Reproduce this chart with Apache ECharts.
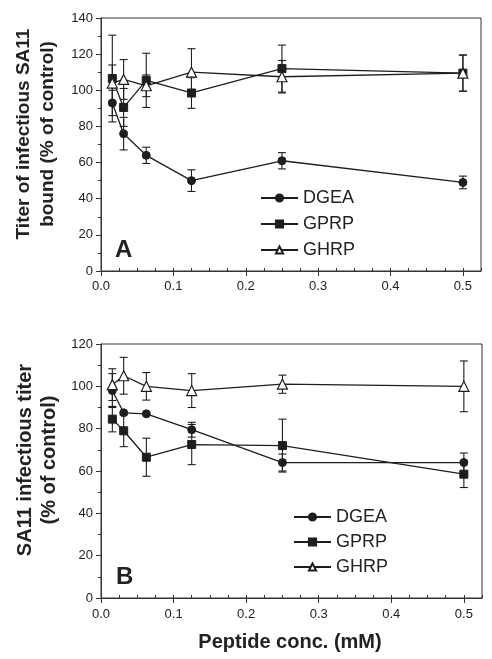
<!DOCTYPE html>
<html>
<head>
<meta charset="utf-8">
<script src="https://cdn.jsdelivr.net/npm/echarts@6/dist/echarts.min.js"></script>
<style>
html,body{margin:0;padding:0;background:#fff;}
#chart{width:492px;height:659px;}
</style>
</head>
<body>
<div id="chart"></div>
<script>
// ---- data ----
const conc = [0.015625, 0.03125, 0.0625, 0.125, 0.25, 0.5];
const seriesNames = ['DGEA', 'GPRP', 'GHRP'];

// Panel A: titer of infectious SA11 bound (% of control)
const aDGEA = [93, 76, 64, 50, 61, 49];
const aDGEAErr = [7, 9, 4.5, 6, 4.5, 3.5];
const aGPRP = [106.5, 90.5, 105.5, 98.5, 112, 109.5];
const aGPRPErr = [24, 10.5, 15, 8.5, 13, 10];
const aGHRP = [104, 106, 102.5, 110, 107.5, 109.5];
const aGHRPErr = [10, 11, 6, 13, 9, 10];

// Panel B: SA11 infectious titer (% of control)
const bDGEA = [98, 87.5, 87, 79.5, 64, 64];
const bDGEAErr = [8, 0, 0, 3.5, 4, 4.5];
const bGPRP = [84.5, 79, 66.5, 72.5, 72, 58.5];
const bGPRPErr = [6, 7.5, 9, 9.5, 12.5, 6.3];
const bGHRP = [100.8, 105, 100, 98, 101, 100];
const bGHRPErr = [7.5, 8.7, 6.5, 8, 4.3, 12];

const xTickLabels = ['0.0', '0.1', '0.2', '0.3', '0.4', '0.5'];
const aYMax = 140, bYMax = 120;

// ---- chart ----
const INK = '#1e1e1e';
const AXIS = '#333';
const chart = echarts.init(document.getElementById('chart'), null, {renderer: 'canvas'});

function pairs(ys) { return conc.map((x, i) => [x, ys[i]]); }
function triples(ys, es) { return conc.map((x, i) => [x, ys[i], es[i]]); }

function errRender(params, api) {
  const x = api.value(0), y = api.value(1), e = api.value(2);
  if (!e) return null;
  const hi = api.coord([x, y + e]);
  const lo = api.coord([x, y - e]);
  const w = 4;
  const st = {stroke: INK, lineWidth: 1.1};
  return {
    type: 'group',
    children: [
      {type: 'line', shape: {x1: hi[0], y1: hi[1], x2: lo[0], y2: lo[1]}, style: st},
      {type: 'line', shape: {x1: hi[0] - w, y1: hi[1], x2: hi[0] + w, y2: hi[1]}, style: st},
      {type: 'line', shape: {x1: lo[0] - w, y1: lo[1], x2: lo[0] + w, y2: lo[1]}, style: st}
    ]
  };
}

const symbolDefs = {
  DGEA: {symbol: 'circle', symbolSize: 8, itemStyle: {color: INK, borderColor: INK, borderWidth: 1}},
  GPRP: {symbol: 'rect', symbolSize: 8, itemStyle: {color: INK, borderColor: INK, borderWidth: 1}},
  GHRP: {symbol: 'triangle', symbolSize: 10, itemStyle: {color: '#fff', borderColor: INK, borderWidth: 1.2}}
};

function lineSeries(name, ys, xi, yi) {
  const d = symbolDefs[name];
  return {
    type: 'line', name: name, xAxisIndex: xi, yAxisIndex: yi,
    data: pairs(ys), symbol: d.symbol, symbolSize: d.symbolSize,
    showAllSymbol: true, itemStyle: d.itemStyle,
    lineStyle: {color: INK, width: 1.3}, z: 5, animation: false
  };
}
function errSeries(ys, es, xi, yi) {
  return {
    type: 'custom', xAxisIndex: xi, yAxisIndex: yi,
    data: triples(ys, es), renderItem: errRender, z: 3, silent: true, animation: false
  };
}

function xMajor(gi, margin) {
  return {
    type: 'value', gridIndex: gi, min: 0, max: 0.525, interval: 0.1,
    axisLine: {show: true, onZero: false, lineStyle: {color: AXIS, width: 1}},
    axisTick: {show: true, length: 5, lineStyle: {color: AXIS}},
    axisLabel: {show: true, margin: margin, color: '#222', fontSize: 13, fontFamily: 'Liberation Sans',
      showMaxLabel: false, formatter: v => { const i = Math.round(v * 10); return xTickLabels[i] !== undefined && Math.abs(v*10 - i) < 1e-6 ? xTickLabels[i] : ''; }},
    splitLine: {show: false}
  };
}
function xMinor(gi) {
  return {
    type: 'value', gridIndex: gi, min: 0, max: 0.525, interval: 0.025,
    axisLine: {show: false}, axisLabel: {show: false},
    axisTick: {show: true, length: 3, lineStyle: {color: AXIS}},
    splitLine: {show: false}
  };
}
function yAxisDef(gi, max) {
  return {
    type: 'value', gridIndex: gi, min: 0, max: max, interval: 20,
    axisLine: {show: true, onZero: false, lineStyle: {color: AXIS, width: 1}},
    axisTick: {show: true, length: 5, lineStyle: {color: AXIS}},
    minorTick: {show: true, splitNumber: 2, length: 3, lineStyle: {color: AXIS}},
    axisLabel: {margin: 8, color: '#222', fontSize: 13, fontFamily: 'Liberation Sans'},
    splitLine: {show: false}
  };
}

const legendText = {fontSize: 18, color: '#222', fontFamily: 'Liberation Sans'};

const option = {
  backgroundColor: '#fff',
  animation: false,
  grid: [
    {left: 101, top: 18, width: 380, height: 253, show: true, borderColor: AXIS, borderWidth: 1},
    {left: 101, top: 344, width: 381, height: 254, show: true, borderColor: AXIS, borderWidth: 1}
  ],
  xAxis: [xMajor(0, 9), xMinor(0), xMajor(1, 10), xMinor(1)],
  yAxis: [yAxisDef(0, aYMax), yAxisDef(1, bYMax)],
  legend: [
    {orient: 'vertical', left: 255, top: 184, itemWidth: 37, itemHeight: 9, itemGap: 8,
      data: seriesNames, textStyle: legendText, selectedMode: false},
    {orient: 'vertical', left: 288, top: 503, itemWidth: 37, itemHeight: 9, itemGap: 7,
      data: seriesNames, textStyle: legendText, selectedMode: false}
  ],
  series: [
    errSeries(aDGEA, aDGEAErr, 0, 0),
    errSeries(aGPRP, aGPRPErr, 0, 0),
    errSeries(aGHRP, aGHRPErr, 0, 0),
    lineSeries('DGEA', aDGEA, 0, 0),
    lineSeries('GPRP', aGPRP, 0, 0),
    lineSeries('GHRP', aGHRP, 0, 0),
    errSeries(bDGEA, bDGEAErr, 2, 1),
    errSeries(bGPRP, bGPRPErr, 2, 1),
    errSeries(bGHRP, bGHRPErr, 2, 1),
    lineSeries('DGEA', bDGEA, 2, 1),
    lineSeries('GPRP', bGPRP, 2, 1),
    lineSeries('GHRP', bGHRP, 2, 1)
  ],
  graphic: [
    {type: 'text', x: 36, y: 134, rotation: Math.PI / 2,
      style: {text: 'Titer of infectious SA11\nbound (% of control)', fontSize: 19, fontWeight: 'bold',
        fontFamily: 'Liberation Sans', fill: '#222', align: 'center', verticalAlign: 'middle', lineHeight: 24}},
    {type: 'text', x: 37, y: 460, rotation: Math.PI / 2,
      style: {text: 'SA11 infectious titer\n(% of control)', fontSize: 20, fontWeight: 'bold',
        fontFamily: 'Liberation Sans', fill: '#222', align: 'center', verticalAlign: 'middle', lineHeight: 24}},
    {type: 'text', x: 290, y: 642,
      style: {text: 'Peptide conc. (mM)', fontSize: 20, fontWeight: 'bold',
        fontFamily: 'Liberation Sans', fill: '#222', align: 'center', verticalAlign: 'middle'}},
    {type: 'text', x: 115, y: 250,
      style: {text: 'A', fontSize: 24, fontWeight: 'bold', fontFamily: 'Liberation Sans', fill: '#222',
        align: 'left', verticalAlign: 'middle'}},
    {type: 'text', x: 116, y: 577,
      style: {text: 'B', fontSize: 24, fontWeight: 'bold', fontFamily: 'Liberation Sans', fill: '#222',
        align: 'left', verticalAlign: 'middle'}}
  ]
};
chart.setOption(option);
</script>
</body>
</html>
